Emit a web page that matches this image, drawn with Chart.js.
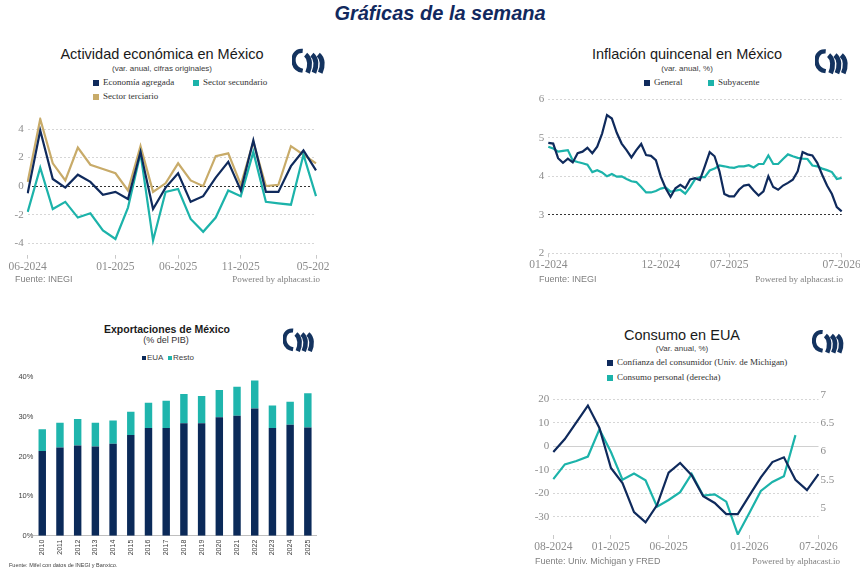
<!DOCTYPE html>
<html lang="es">
<head>
<meta charset="utf-8">
<script src="https://cdn.jsdelivr.net/npm/chart.js@4.4.1/dist/chart.umd.min.js"></script>
<style>
  body { margin: 0; background: #fff; }
  #page { position: relative; width: 860px; height: 576px; overflow: hidden; font-family: 'Liberation Sans', Arial, sans-serif; }
  .t { position: absolute; white-space: nowrap; line-height: 1; }
  .c { transform: translateX(-50%); }
  .r { transform: translateX(-100%); }
  .serif { font-family: 'Liberation Serif', 'Times New Roman', serif; }
  .title { font-size: 14.5px; color: #1a1a1a; }
  .sub { font-size: 8px; color: #404040; }
  .leg { font-size: 9px; color: #333; }
  .src { font-size: 9px; color: #7f7f7f; }
  .sq { position: absolute; width: 6px; height: 6px; }
  .logo { position: absolute; }
  canvas { position: absolute; }
</style>
</head>
<body>
<div id="page">
  <div class="t c" style="left:440px; top:3px; font-size:20px; font-weight:bold; font-style:italic; color:#12295e;">Gráficas de la semana</div>

  <!-- panel 1 -->
  <div class="t c title" style="left:162px; top:47px;">Actividad económica en México</div>
  <div class="t c sub" style="left:162px; top:65px;">(var. anual, cifras originales)</div>
  <div class="sq" style="left:93px; top:80px; background:#0f2a5c;"></div>
  <div class="t leg serif" style="left:103px; top:78px;">Economía agregada</div>
  <div class="sq" style="left:193px; top:80px; background:#1cb3aa;"></div>
  <div class="t leg serif" style="left:203px; top:78px;">Sector secundario</div>
  <div class="sq" style="left:93px; top:94px; background:#c8ab69;"></div>
  <div class="t leg serif" style="left:103px; top:92px;">Sector terciario</div>
  <canvas id="c1" width="330" height="170" style="left:0; top:110px;"></canvas>
  <div class="t src" style="left:15px; top:275px;">Fuente: INEGI</div>
  <div class="t r src serif" style="left:320px; top:275px;">Powered by alphacast.io</div>

  <!-- panel 2 -->
  <div class="t c title" style="left:687px; top:47px;">Inflación quincenal en México</div>
  <div class="t c sub" style="left:687px; top:65px;">(var. anual, %)</div>
  <div class="sq" style="left:644px; top:80px; background:#0f2a5c;"></div>
  <div class="t leg serif" style="left:654px; top:78px;">General</div>
  <div class="sq" style="left:708px; top:80px; background:#1cb3aa;"></div>
  <div class="t leg serif" style="left:718px; top:78px;">Subyacente</div>
  <canvas id="c2" width="360" height="190" style="left:500px; top:90px;"></canvas>
  <div class="t src" style="left:539px; top:275px;">Fuente: INEGI</div>
  <div class="t r src serif" style="left:843px; top:275px;">Powered by alphacast.io</div>

  <!-- panel 3 -->
  <div class="t c" style="left:167px; top:324px; font-size:10.5px; font-weight:bold; color:#1a1a1a;">Exportaciones de México</div>
  <div class="t c" style="left:166px; top:336px; font-size:9px; color:#333;">(% del PIB)</div>
  <div class="sq" style="left:142px; top:356px; width:4px; height:4px; background:#0b2a59;"></div>
  <div class="t" style="left:147px; top:354px; font-size:8px; color:#404040;">EUA</div>
  <div class="sq" style="left:168px; top:356px; width:4px; height:4px; background:#1fb5ad;"></div>
  <div class="t" style="left:173px; top:354px; font-size:8px; color:#404040;">Resto</div>
  <canvas id="c3" width="330" height="200" style="left:0; top:365px;"></canvas>
  <div class="t" style="left:9px; top:563px; font-size:5.5px; color:#404040;">Fuente: Mifel con datos de INEGI y Banxico.</div>

  <!-- panel 4 -->
  <div class="t c title" style="left:682px; top:328px;">Consumo en EUA</div>
  <div class="t c sub" style="left:682px; top:345px;">(Var. anual, %)</div>
  <div class="sq" style="left:607px; top:360px; background:#0f2a5c;"></div>
  <div class="t leg serif" style="left:617px; top:358px;">Confianza del consumidor (Univ. de Michigan)</div>
  <div class="sq" style="left:607px; top:375px; background:#1cb3aa;"></div>
  <div class="t leg serif" style="left:617px; top:373px;">Consumo personal (derecha)</div>
  <canvas id="c4" width="360" height="175" style="left:500px; top:385px;"></canvas>
  <div class="t src" style="left:535px; top:557px;">Fuente: Univ. Michigan y FRED</div>
  <div class="t r src serif" style="left:840px; top:557px;">Powered by alphacast.io</div>
</div>

<script>
// --- datos ---
const labels1 = ['06-2024', '07-2024', '08-2024', '09-2024', '10-2024', '11-2024', '12-2024', '01-2025',
  '02-2025', '03-2025', '04-2025', '05-2025', '06-2025', '07-2025', '08-2025', '09-2025', '10-2025',
  '11-2025', '12-2025', '01-2026', '02-2026', '03-2026', '04-2026', '05-2026'];
const economia = [-0.5, 3.9, 0.5, -0.1, 0.8, 0.3, -0.6, -0.4, -0.9, 2.4, -1.6, -0.1,
  0.9, -1.1, -0.7, 0.6, 1.7, -0.3, 3.2, -0.4, -0.4, 1.4, 2.5, 1.1];
const secundario = [-1.8, 1.3, -1.6, -1.1, -2.2, -1.9, -3.1, -3.7, -1.5, 2.3, -3.8, -0.4,
  -0.2, -2.3, -3.2, -2.2, -0.3, -0.7, 2.4, -1.1, -1.2, -1.3, 2.2, -0.7];
const terciario = [0.3, 4.7, 1.6, 0.4, 2.7, 1.5, 1.2, 0.9, -0.3, 2.8, -0.4, 0.2,
  1.6, 0.4, 0.0, 2.1, 2.3, 0.1, 3.1, 0.0, 0.1, 2.8, 2.2, 1.6];
const ticks1 = ['06-2024', '01-2025', '06-2025', '11-2025', '05-2026'];
const yTicks1 = [-4, -2, 0, 2, 4];

// quincenal: cada mes aparece dos veces
const labels2 = ['01-2024', '01-2024', '02-2024', '02-2024', '03-2024', '03-2024', '04-2024', '04-2024',
  '05-2024', '05-2024', '06-2024', '06-2024', '07-2024', '07-2024', '08-2024', '08-2024',
  '09-2024', '09-2024', '10-2024', '10-2024', '11-2024', '11-2024', '12-2024', '12-2024',
  '01-2025', '01-2025', '02-2025', '02-2025', '03-2025', '03-2025', '04-2025', '04-2025',
  '05-2025', '05-2025', '06-2025', '06-2025', '07-2025', '07-2025', '08-2025', '08-2025',
  '09-2025', '09-2025', '10-2025', '10-2025', '11-2025', '11-2025', '12-2025', '12-2025',
  '01-2026', '01-2026', '02-2026', '02-2026', '03-2026', '03-2026', '04-2026', '04-2026',
  '05-2026', '05-2026', '06-2026', '06-2026', '07-2026'];
const general = [4.87, 4.85, 4.47, 4.35, 4.46, 4.36, 4.60, 4.64, 4.74, 4.60,
  4.77, 5.11, 5.59, 5.50, 5.13, 4.85, 4.68, 4.49, 4.68, 4.84,
  4.55, 4.53, 4.42, 3.99, 3.69, 3.47, 3.69, 3.78, 3.69, 3.92,
  3.95, 3.90, 4.26, 4.63, 4.52, 4.13, 3.54, 3.48, 3.48, 3.65,
  3.76, 3.78, 3.63, 3.50, 3.61, 4.00, 3.72, 3.65, 3.76, 3.83,
  3.91, 4.13, 4.63, 4.57, 4.54, 4.35, 4.04, 3.76, 3.54, 3.20, 3.09];
const subyacente = [4.77, 4.72, 4.64, 4.66, 4.68, 4.41, 4.37, 4.34, 4.30, 4.11,
  4.16, 4.10, 4.00, 4.06, 3.99, 4.00, 3.93, 3.87, 3.85, 3.72,
  3.58, 3.58, 3.62, 3.68, 3.71, 3.60, 3.63, 3.65, 3.55, 3.72,
  3.92, 3.98, 3.98, 4.15, 4.20, 4.28, 4.26, 4.23, 4.22, 4.26,
  4.26, 4.29, 4.23, 4.32, 4.32, 4.54, 4.32, 4.32, 4.45, 4.57,
  4.52, 4.48, 4.46, 4.45, 4.28, 4.26, 4.20, 4.16, 4.11, 3.93, 3.96];
const ticks2 = ['01-2024', '12-2024', '07-2025', '07-2026'];
const yTicks2 = [2, 3, 4, 5, 6];

const years = ['2010', '2011', '2012', '2013', '2014', '2015', '2016', '2017',
  '2018', '2019', '2020', '2021', '2022', '2023', '2024', '2025'];
const eua = [21.4, 22.3, 22.8, 22.5, 23.2, 25.4, 27.2, 27.2, 28.4, 28.4, 29.9, 30.3, 32.1, 27.2, 28.0, 27.3];
const resto = [5.5, 6.2, 6.7, 6.0, 5.9, 5.9, 6.4, 6.9, 7.4, 6.9, 6.9, 7.3, 7.1, 5.7, 5.8, 8.7];
const yTicks3 = [0, 10, 20, 30, 40];

const labels4 = ['08-2024', '09-2024', '10-2024', '11-2024', '12-2024', '01-2025', '02-2025', '03-2025',
  '04-2025', '05-2025', '06-2025', '07-2025', '08-2025', '09-2025', '10-2025', '11-2025',
  '12-2025', '01-2026', '02-2026', '03-2026', '04-2026', '05-2026', '06-2026', '07-2026'];
const confianza = [-2.4, 3.1, 10.2, 17.3, 7.8, -9.2, -15.6, -28.0, -32.3, -25.0, -11.2, -7.1,
  -12.3, -21.2, -24.1, -28.8, -28.8, -21.0, -13.2, -6.7, -4.7, -14.2, -18.6, -11.8];
const consumo = [5.51, 5.77, 5.83, 5.91, 6.39, 5.99, 5.50, 5.61, 5.49, 5.02, 5.14, 5.28,
  5.60, 5.22, 5.24, 5.11, 4.53, 4.91, 5.30, 5.46, 5.56, 6.29, null, null];
const ticks4 = ['08-2024', '01-2025', '06-2025', '01-2026', '07-2026'];
const yTicks4 = [-30, -20, -10, 0, 10, 20];
const yTicks4r = [5, 5.5, 6, 6.5, 7];

// --- estilos ---
const NAVY = '#0f2a5c';
const TEAL = '#1cb3aa';
const GOLD = '#c8ab69';
const TICK = '#8c8c8c';
const serif = size => ({ family: "'Liberation Serif', 'Times New Roman', serif", size });
const sans = size => ({ family: "'Liberation Sans', Arial, sans-serif", size });

Chart.defaults.animation = false;
Chart.defaults.responsive = false;
Chart.defaults.plugins.legend.display = false;
Chart.defaults.plugins.tooltip.enabled = false;

function line(data, color, axis) {
  return { data, borderColor: color, borderWidth: 2.2, pointRadius: 0, tension: 0, fill: false, yAxisID: axis || 'y' };
}

function xAxis(idx, height) {
  return {
    afterBuildTicks: s => { s.ticks = s.ticks.filter(t => idx.includes(t.value)); },
    afterFit: s => { s.height = height; s.paddingLeft = 0; s.paddingRight = 0; },
    grid: { drawOnChartArea: false, color: '#c8c8c8', tickLength: 4 },
    border: { display: false },
    ticks: { autoSkip: false, maxRotation: 0, color: TICK, font: serif(11.5), padding: 1 }
  };
}

function yAxis(min, max, values, width, darkAt, solidZero) {
  return {
    min, max,
    afterBuildTicks: s => { s.ticks = values.map(v => ({ value: v })); },
    afterFit: s => { s.width = width; s.paddingTop = 0; s.paddingBottom = 0; },
    grid: {
      drawTicks: false,
      color: ctx => ctx.tick && ctx.tick.value === darkAt ? (solidZero ? '#d0d0d0' : '#333') : '#d6d6d6'
    },
    border: {
      display: false,
      dash: ctx => (solidZero && ctx.tick && ctx.tick.value === 0) ? [] : [2, 2]
    },
    ticks: { padding: 4, color: TICK, font: serif(11), callback: v => String(v) }
  };
}

const idxOf = (labels, shown) => shown.map(t => labels.indexOf(t));

// Panel 1: Actividad económica
new Chart(document.getElementById('c1'), {
  type: 'line',
  data: {
    labels: labels1,
    datasets: [line(economia, NAVY), line(secundario, TEAL), line(terciario, GOLD)]
  },
  options: {
    layout: { padding: { left: 0, right: 14, top: 7.6, bottom: 0 } },
    scales: {
      x: xAxis(idxOf(labels1, ticks1), 25.3),
      y: yAxis(-4.8, 4.8, yTicks1, 27.7, 0)
    }
  }
});

// Panel 2: Inflación quincenal
const shown2 = ticks2.map((t, k) => k === 0 ? labels2.indexOf(t) : labels2.lastIndexOf(t));
new Chart(document.getElementById('c2'), {
  type: 'line',
  data: {
    labels: labels2,
    datasets: [line(general, NAVY), line(subyacente, TEAL)]
  },
  options: {
    layout: { padding: { left: 0, right: 18.3, top: 9.3, bottom: 0 } },
    scales: {
      x: xAxis(shown2, 26.7),
      y: yAxis(2, 6, yTicks2, 48.3, 3)
    }
  }
});

// Panel 3: Exportaciones
new Chart(document.getElementById('c3'), {
  type: 'bar',
  data: {
    labels: years,
    datasets: [
      { data: eua, backgroundColor: '#0b2a59', barPercentage: 0.42, categoryPercentage: 1 },
      { data: resto, backgroundColor: '#1fb5ad', barPercentage: 0.42, categoryPercentage: 1 }
    ]
  },
  options: {
    layout: { padding: { left: 0, right: 13.3, top: 12.3, bottom: 0 } },
    scales: {
      x: {
        stacked: true,
        afterFit: s => { s.height = 29.3; s.paddingLeft = 0; s.paddingRight = 0; },
        grid: { display: false, drawTicks: false },
        border: { display: true, color: '#bfbfbf', width: 1 },
        ticks: { minRotation: 90, maxRotation: 90, autoSkip: false, padding: 4, color: '#404040', font: sans(7) }
      },
      y: {
        stacked: true, min: 0, max: 40,
        afterBuildTicks: s => { s.ticks = yTicks3.map(v => ({ value: v })); },
        afterFit: s => { s.width = 33.4; s.paddingTop = 0; s.paddingBottom = 0; },
        grid: { display: false, drawTicks: false },
        border: { display: false },
        ticks: { padding: 0, color: '#404040', font: sans(7.5), callback: v => v + '%' }
      }
    }
  }
});

// Panel 4: Consumo en EUA
const y4r = yAxis(4.52, 7, yTicks4r, 41.5, null);
y4r.position = 'right';
y4r.grid = { display: false, drawTicks: false };
y4r.ticks.padding = 2;
new Chart(document.getElementById('c4'), {
  type: 'line',
  data: {
    labels: labels4,
    datasets: [line(confianza, NAVY), line(consumo, TEAL, 'y2')]
  },
  options: {
    layout: { padding: { left: 0, right: 0, top: 10, bottom: 0 } },
    scales: {
      x: xAxis(idxOf(labels4, ticks4), 25),
      y: yAxis(-37.7, 21.8, yTicks4, 53.3, 0, true),
      y2: y4r
    }
  }
});
</script>

<!-- logos -->
<svg class="logo" style="left:292px; top:48px;" width="37" height="27" viewBox="0 0 38 26"><g fill="none" stroke="#14335f" stroke-linecap="butt"><path d="M11,2.2 C3.5,1.5 0.8,8 1.8,14 C2.6,18.5 5.5,21.5 11,22.5" stroke-width="4.4"/><path d="M14,6 C19,10 19,18 16,24.5" stroke-width="5"/><path d="M20.5,6 C25.5,10 25.5,18 22.5,24.5" stroke-width="5"/><path d="M27,6 C32,10 32,18 29,24.5" stroke-width="5"/></g></svg>
<svg class="logo" style="left:815px; top:49px;" width="37" height="26" viewBox="0 0 38 26"><g fill="none" stroke="#14335f" stroke-linecap="butt"><path d="M11,2.2 C3.5,1.5 0.8,8 1.8,14 C2.6,18.5 5.5,21.5 11,22.5" stroke-width="4.4"/><path d="M14,6 C19,10 19,18 16,24.5" stroke-width="5"/><path d="M20.5,6 C25.5,10 25.5,18 22.5,24.5" stroke-width="5"/><path d="M27,6 C32,10 32,18 29,24.5" stroke-width="5"/></g></svg>
<svg class="logo" style="left:283px; top:327px;" width="35" height="27" viewBox="0 0 38 26"><g fill="none" stroke="#14335f" stroke-linecap="butt"><path d="M11,2.2 C3.5,1.5 0.8,8 1.8,14 C2.6,18.5 5.5,21.5 11,22.5" stroke-width="4.4"/><path d="M14,6 C19,10 19,18 16,24.5" stroke-width="5"/><path d="M20.5,6 C25.5,10 25.5,18 22.5,24.5" stroke-width="5"/><path d="M27,6 C32,10 32,18 29,24.5" stroke-width="5"/></g></svg>
<svg class="logo" style="left:812px; top:330px;" width="36" height="24" viewBox="0 0 38 26"><g fill="none" stroke="#14335f" stroke-linecap="butt"><path d="M11,2.2 C3.5,1.5 0.8,8 1.8,14 C2.6,18.5 5.5,21.5 11,22.5" stroke-width="4.4"/><path d="M14,6 C19,10 19,18 16,24.5" stroke-width="5"/><path d="M20.5,6 C25.5,10 25.5,18 22.5,24.5" stroke-width="5"/><path d="M27,6 C32,10 32,18 29,24.5" stroke-width="5"/></g></svg>
</body>
</html>
